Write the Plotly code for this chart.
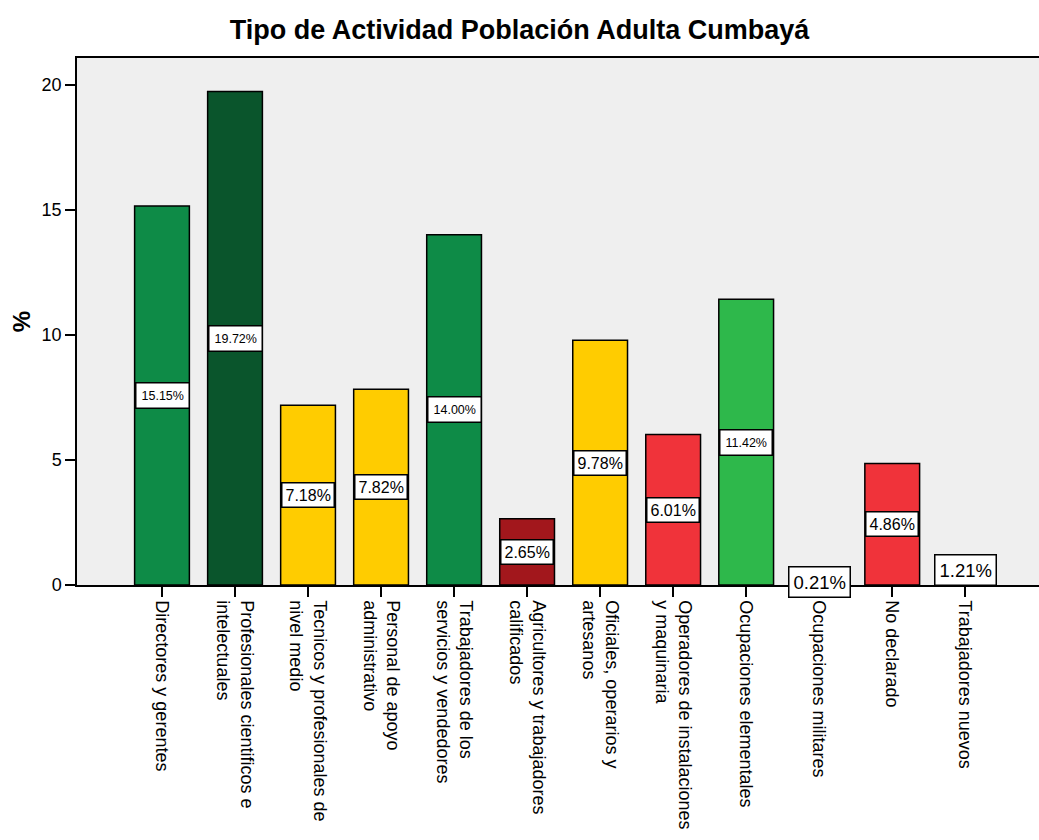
import plotly.graph_objects as go

# Ocupación de la población adulta de Cumbayá (% del total)
categorias = [
    "Directores y gerentes",
    "Profesionales cientificos e<br>intelectuales",
    "Tecnicos y profesionales de<br>nivel medio",
    "Personal de apoyo<br>administrativo",
    "Trabajadores de los<br>servicios y vendedores",
    "Agricultores y trabajadores<br>calificados",
    "Oficiales, operarios y<br>artesanos",
    "Operadores de instalaciones<br>y maquinaria",
    "Ocupaciones elementales",
    "Ocupaciones militares",
    "No declarado",
    "Trabajadores nuevos",
]
porcentajes = [15.15, 19.72, 7.18, 7.82, 14.00, 2.65, 9.78, 6.01, 11.42, 0.21, 4.86, 1.21]

# Estilo de cada barra y de su etiqueta
colores = ["#0E8B47", "#0A552C", "#FFCC00", "#FFCC00", "#0E8B47", "#A2171C",
           "#FFCC00", "#F0333A", "#2EB84B", "#FFFFFF", "#F0333A", "#FFFFFF"]
tam_etiqueta = [12.5, 12.5, 16, 16, 12.5, 16, 16, 16, 12.5, 18.5, 16, 18.5]
pad_etiqueta = [5, 5, 3, 3, 5, 3, 3, 3, 5, 4, 3, 4]

FONT = "Liberation Sans, Arial, sans-serif"
x = list(range(len(categorias)))

fig = go.Figure()
fig.add_trace(go.Bar(
    x=x,
    y=porcentajes,
    width=0.75,
    marker=dict(color=colores, line=dict(color="black", width=1.5)),
    hoverinfo="skip",
))

for xi, v, sz, pd in zip(x, porcentajes, tam_etiqueta, pad_etiqueta):
    fig.add_annotation(
        x=xi, y=v / 2, text=f"{v:.2f}%", showarrow=False,
        font=dict(family=FONT, size=sz, color="black"),
        bgcolor="white", bordercolor="black", borderwidth=1.5, borderpad=pd,
        xanchor="center", yanchor="middle",
    )

fig.update_layout(
    width=1039, height=840,
    margin=dict(l=77, r=0, t=58, b=255),
    paper_bgcolor="white",
    plot_bgcolor="#EFEFEF",
    showlegend=False,
    font=dict(family=FONT, color="black"),
    title=dict(
        text="<b>Tipo de Actividad Población Adulta Cumbayá</b>",
        x=0.5, xanchor="center", y=0.965, yanchor="middle",
        font=dict(family=FONT, size=27, color="black"),
    ),
)

fig.update_xaxes(
    tickmode="array", tickvals=x, ticktext=categorias,
    range=[-1.164, 12.01],
    tickangle=90, tickfont=dict(family=FONT, size=18),
    ticks="outside", ticklen=10, tickwidth=1.5, tickcolor="black",
    showline=True, linecolor="black", linewidth=1.5, mirror=True,
    showgrid=False, zeroline=False,
)

fig.update_yaxes(
    range=[0, 21.06],
    tickvals=[0, 5, 10, 15, 20],
    tickfont=dict(family=FONT, size=18),
    ticks="outside", ticklen=10, tickwidth=1.5, tickcolor="black",
    showline=True, linecolor="black", linewidth=1.5,
    showgrid=False, zeroline=False,
    title=dict(text="<b>%</b>", font=dict(family=FONT, size=24), standoff=4),
)

fig.write_html("out.html")
